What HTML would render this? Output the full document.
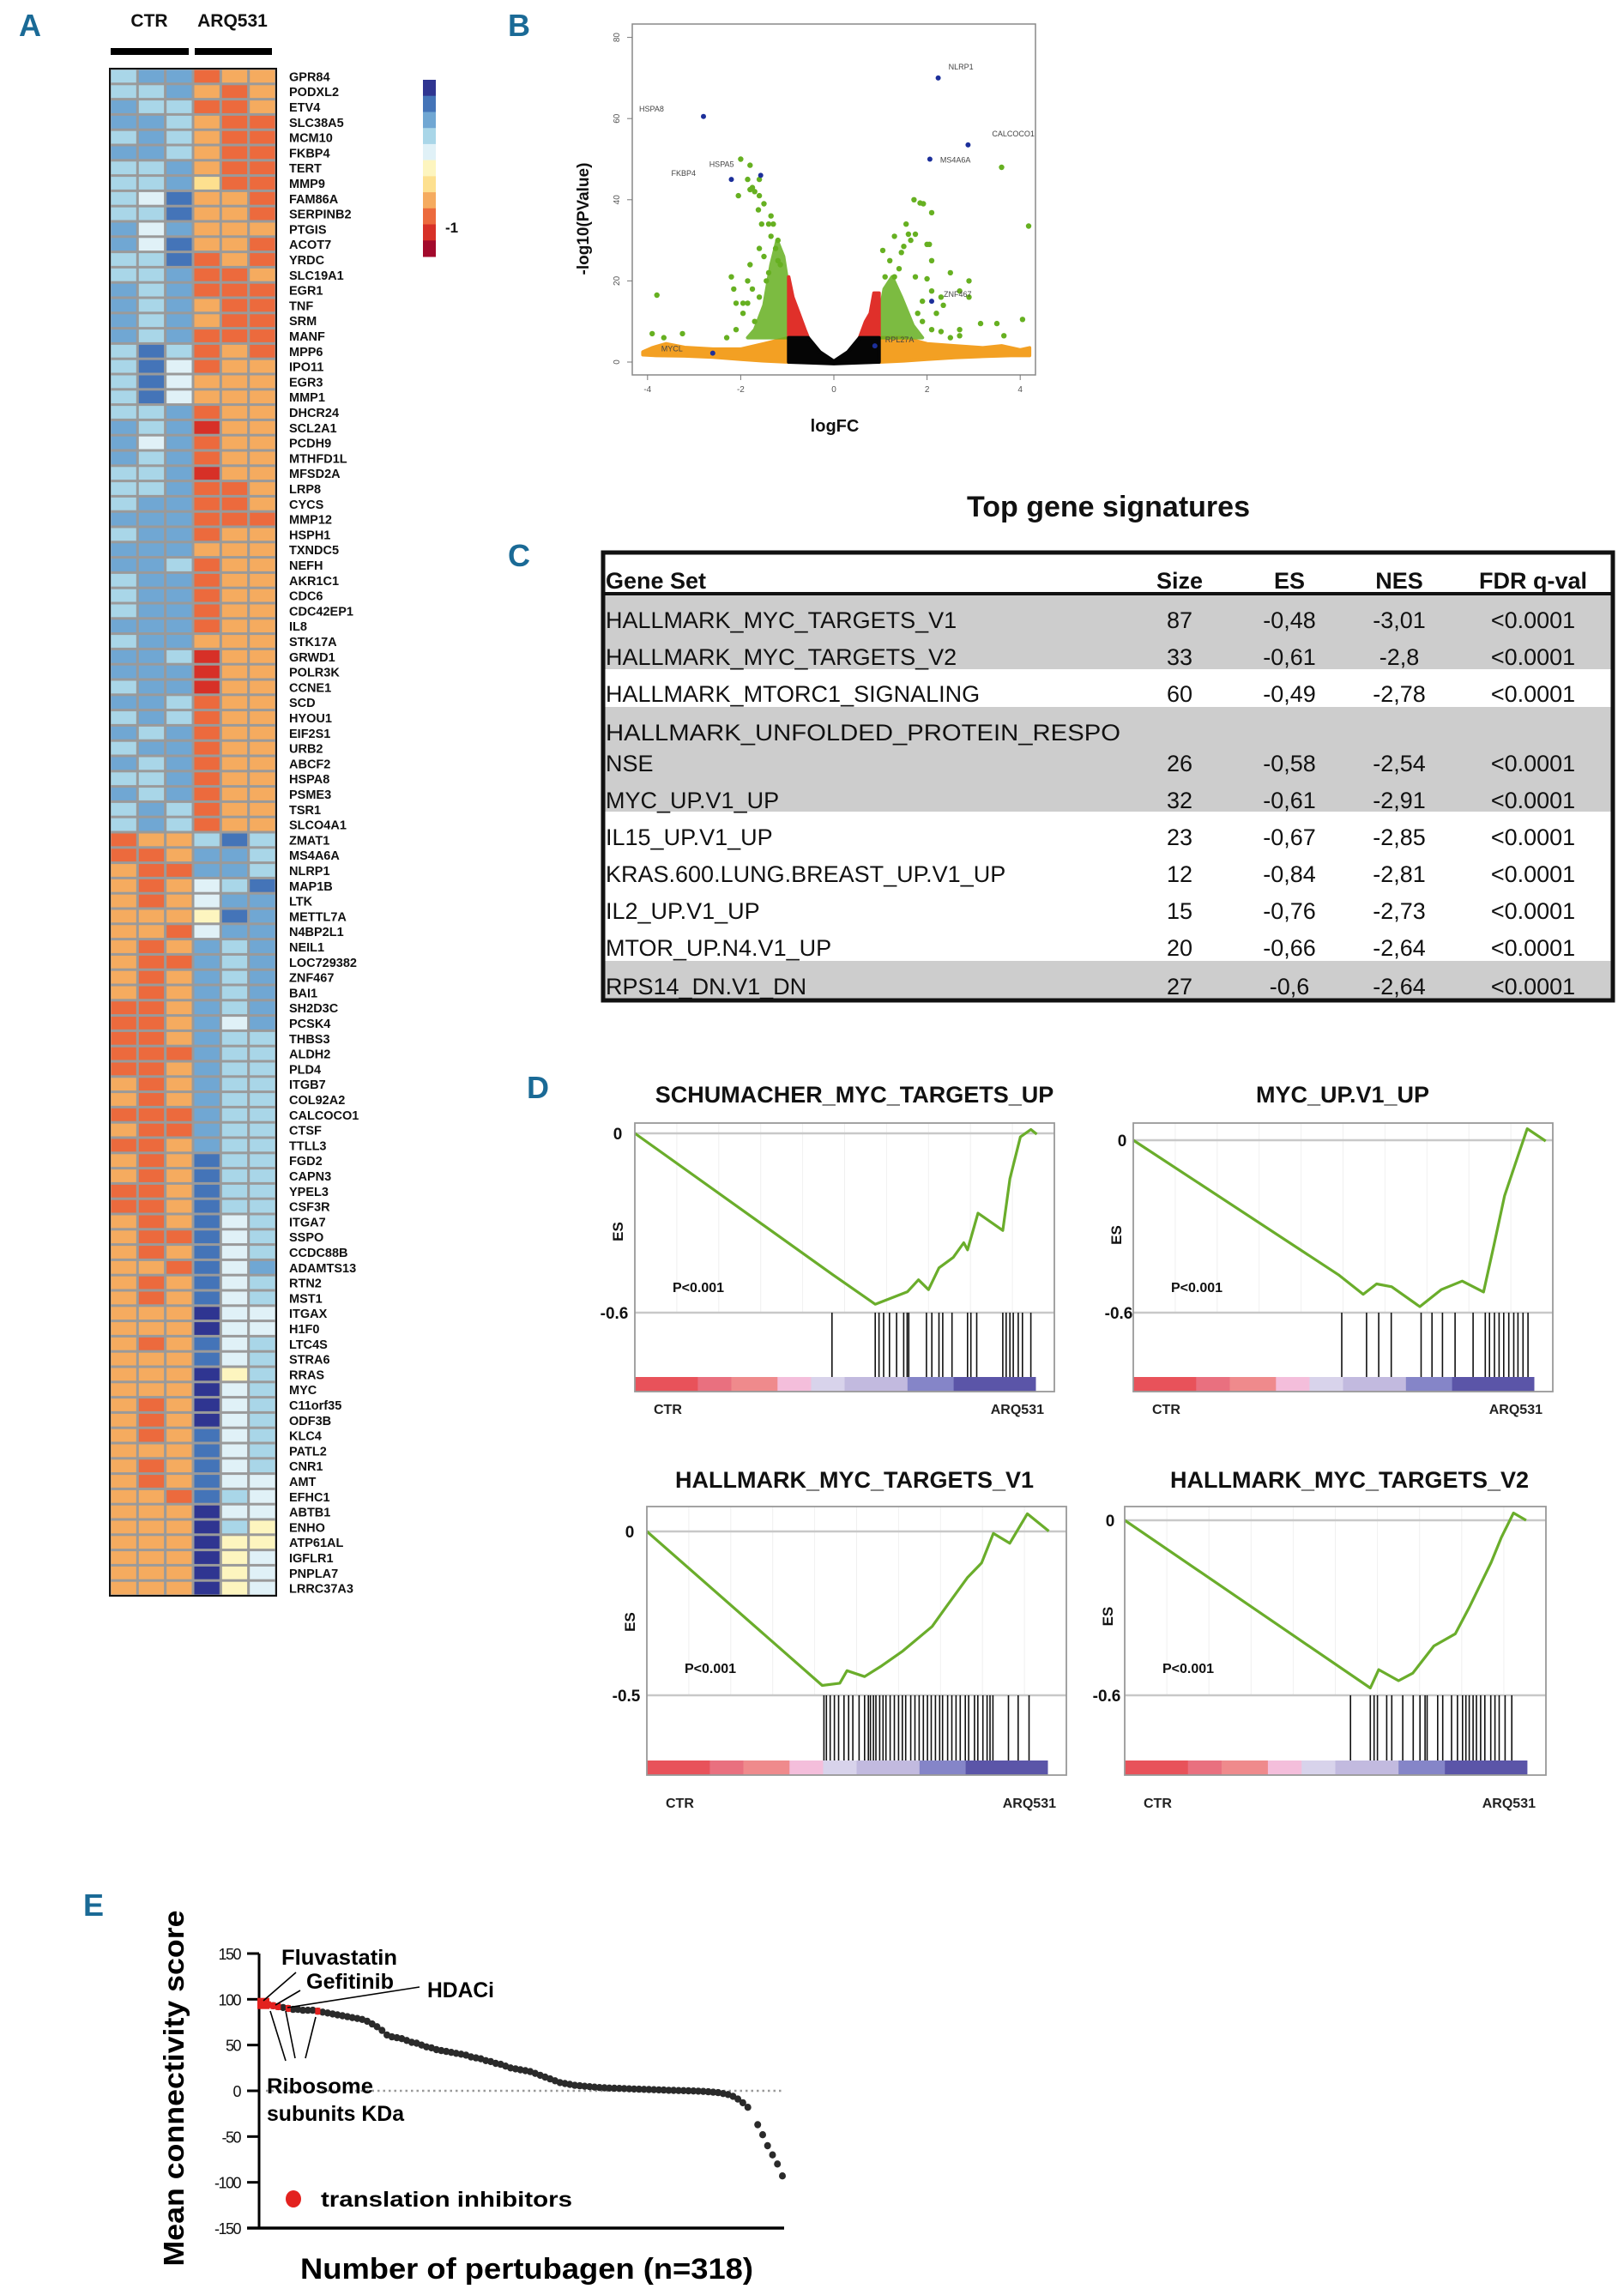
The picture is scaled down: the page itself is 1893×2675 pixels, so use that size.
<!DOCTYPE html>
<html><head><meta charset="utf-8"><style>
html,body{margin:0;padding:0;background:#fff;}
svg{display:block;font-family:"Liberation Sans",Arial,sans-serif;}
</style></head><body>
<svg id="fig" xmlns="http://www.w3.org/2000/svg" width="1893" height="2675" viewBox="0 0 1893 2675">
<rect x="0" y="0" width="1893" height="2675" fill="#fff"/>
<g font-family="Liberation Sans, Arial, sans-serif" font-weight="bold" fill="#1a6a96" font-size="36">
<text x="22" y="42">A</text>
<text x="592" y="42">B</text>
<text x="592" y="660">C</text>
<text x="614" y="1280">D</text>
<text x="97" y="2233">E</text>
</g>
<g id="gA"></g>
<g id="gB"></g>
<g id="gC"></g>
<g id="gD"></g>
<g id="gE"></g>
</svg>
<script>
// ================= DATA =================
// Heatmap (A)
var genes = ["GPR84","PODXL2","ETV4","SLC38A5","MCM10","FKBP4","TERT","MMP9","FAM86A","SERPINB2","PTGIS","ACOT7","YRDC","SLC19A1","EGR1","TNF","SRM","MANF","MPP6","IPO11","EGR3","MMP1","DHCR24","SCL2A1","PCDH9","MTHFD1L","MFSD2A","LRP8","CYCS","MMP12","HSPH1","TXNDC5","NEFH","AKR1C1","CDC6","CDC42EP1","IL8","STK17A","GRWD1","POLR3K","CCNE1","SCD","HYOU1","EIF2S1","URB2","ABCF2","HSPA8","PSME3","TSR1","SLCO4A1","ZMAT1","MS4A6A","NLRP1","MAP1B","LTK","METTL7A","N4BP2L1","NEIL1","LOC729382","ZNF467","BAI1","SH2D3C","PCSK4","THBS3","ALDH2","PLD4","ITGB7","COL92A2","CALCOCO1","CTSF","TTLL3","FGD2","CAPN3","YPEL3","CSF3R","ITGA7","SSPO","CCDC88B","ADAMTS13","RTN2","MST1","ITGAX","H1F0","LTC4S","STRA6","RRAS","MYC","C11orf35","ODF3B","KLC4","PATL2","CNR1","AMT","EFHC1","ABTB1","ENHO","ATP61AL","IGFLR1","PNPLA7","LRRC37A3"];
var cellCodes = ["dccihh","ddchih","cddiih","ccdhii","dcdhii","ccdhii","ddchii","ddcgii","debhhi","ddbhhi","cechhh","cebhhi","ddbihi","ddciih","cdciii","cdchii","cdchii","cdciii","dbdihi","dbeihh","dbehhh","dbehhh","ddcihh","cdcjhh","cecihh","cdcihh","ddcjhh","ddciih","dcciih","ccciii","dccihh","ccchhh","ccdihh","dccihh","dccihh","dccihh","cccihh","dcchhh","ccdjhh","cccjhh","dccjhh","ccdihh","dcdihh","cdcihh","dccihh","cdcihh","ddcihh","cdcihh","dcdihh","dcdihh",
"ihhdbd","iihccd","hiiccd","hihedb","hihecc","hhhfbc","hhiecc","hihcdc","hiicdc","hihcdc","hihcdc","iihcdc","iihcec","iihcdd","iiicdd","iihcdd","hihcdd","hihcdd","iiicdd","hiicdd","iihcdd","hihbdd","hihbdd","iihbdd","iihbdd","hihbed","hiibed","hihbed","hhibec","hihbed","hihbed","hhhaee","hhhaee","hihbed","hhhbed","hhhafd","hhhaed","hihaed","hihaed","hihbed","hhhbed","hihbed","hihbee","hhibde","hhhaee","hhhadf","hhhaff","hhhafe","hhhafe","hhhafe"];
var legendCodes = ["a","b","c","d","e","f","g","h","i","j","k"];

// Volcano (B)
var greenX = [-3.8,-3.9,-3.65,-3.25,-2.2,-2.15,-2.1,-1.95,-1.85,-2.0,-1.8,-1.85,-1.6,-1.75,-1.8,-1.7,-2.05,-1.6,-1.5,-1.62,-1.35,-1.4,-1.3,-1.55,-1.35,-1.2,-1.6,-1.5,-1.8,-1.2,-1.4,-1.85,-1.75,-1.6,-1.95,-2.1,-2.3,-1.15,-1.25,-1.45,-1.7,3.6,4.18,1.72,1.85,1.92,2.1,1.55,1.6,1.75,1.65,1.3,2.0,2.05,1.5,1.45,2.1,1.05,1.2,1.4,1.1,1.3,2.5,2.9,2.0,1.75,2.1,2.7,2.9,2.3,2.35,2.2,3.15,3.5,4.05,2.7,2.7,2.5,3.65,2.3,2.1,1.9,1.8,1.9];
var greenY = [16.5,7,6,7,21,18,14.5,14.5,14.5,50,48.5,45,45,43,42.5,42,41,41,39,37.5,36,34,34,34,31,30,28,26,24,25,22,20,18,16,12,8,6,24,28,20,10,48,33.5,40,39.2,39,36.8,34,31.5,31.5,30,31,29,29,28.5,27,25,27.5,25,23,21,21,22,20,20.5,21,17.5,17.5,16,16,14,12,9.5,9.5,10.5,8,6.5,6,6.5,7.5,8,10,12,15];
var labelNames = ["HSPA8","FKBP4","HSPA5","NLRP1","CALCOCO1","MS4A6A","ZNF467","RPL27A","MYCL"];
var labelX = [-2.8,-2.2,-1.57,2.24,2.88,2.06,2.1,0.88,-2.6];
var labelY = [60.5,45,46,70,53.5,50,15,4,2.2];
var orangeLeftX = [-4.1,-3.9,-3.6,-3.2,-2.6,-2.0,-1.5,-0.97,-0.97,-1.5,-2.0,-2.6,-3.2,-3.8,-4.1];
var orangeLeftY = [2.5,3.5,4.5,3.6,3.2,3.2,4.5,6,0,0.3,0.7,1.2,1.5,1.6,1.8];
var orangeRightX = [0.97,1.5,2.0,2.6,3.2,3.6,4.0,4.2,4.2,3.8,3.2,2.6,2.0,1.5,0.97];
var orangeRightY = [6,6,4.5,4,3.5,4,3,3.5,1.6,1.6,1.4,1.1,0.7,0.3,0];
var blackX = [-0.97,-0.97,-0.55,-0.3,0,0.3,0.55,0.97,0.97,0.5,0,-0.5];
var blackY = [0,6,6,2.5,0.2,2.5,6,6,0,-0.2,-0.4,-0.2];
var redLeftX = [-0.97,-0.97,-0.88,-0.75,-0.62,-0.55];
var redLeftY = [6,21,16,12,8,6];
var redRightX = [0.55,0.68,0.78,0.86,0.97,0.97];
var redRightY = [6,10,12,17,17,6];
var greenLeftX = [-0.97,-0.97,-1.08,-1.22,-1.35,-1.5,-1.7,-1.85];
var greenLeftY = [6,18,26,30,24,14,8,6];
var greenRightX = [0.97,0.97,1.08,1.25,1.45,1.7,1.9];
var greenRightY = [6,11,18,21,16,9,6];
var xTicksB = [-4,-2,0,2,4];
var yTicksB = [0,20,40,60,80];

// Table (C)
var tblHeaders = ["Gene Set","Size","ES","NES","FDR q-val"];
var tblNames = ["HALLMARK_MYC_TARGETS_V1","HALLMARK_MYC_TARGETS_V2","HALLMARK_MTORC1_SIGNALING","HALLMARK_UNFOLDED_PROTEIN_RESPO|NSE","MYC_UP.V1_UP","IL15_UP.V1_UP","KRAS.600.LUNG.BREAST_UP.V1_UP","IL2_UP.V1_UP","MTOR_UP.N4.V1_UP","RPS14_DN.V1_DN"];
var tblSize = ["87","33","60","26","32","23","12","15","20","27"];
var tblES = ["-0,48","-0,61","-0,49","-0,58","-0,61","-0,67","-0,84","-0,76","-0,66","-0,6"];
var tblNES = ["-3,01","-2,8","-2,78","-2,54","-2,91","-2,85","-2,81","-2,73","-2,64","-2,64"];
var tblFDR = ["<0.0001","<0.0001","<0.0001","<0.0001","<0.0001","<0.0001","<0.0001","<0.0001","<0.0001","<0.0001"];

// GSEA (D)
var gseaTitles = ["SCHUMACHER_MYC_TARGETS_UP","MYC_UP.V1_UP","HALLMARK_MYC_TARGETS_V1","HALLMARK_MYC_TARGETS_V2"];
var gseaMinLabels = ["-0.6","-0.6","-0.5","-0.6"];
var gseaMin = [-0.6,-0.6,-0.5,-0.6];
var es1F = [0,0.472,0.573,0.65,0.676,0.70,0.725,0.759,0.784,0.793,0.818,0.877,0.894,0.919,0.944,0.958];
var es1V = [0,-0.473,-0.572,-0.53,-0.49,-0.523,-0.45,-0.415,-0.366,-0.39,-0.267,-0.325,-0.152,-0.012,0.013,-0.003];
var es2F = [0,0.489,0.548,0.58,0.616,0.683,0.734,0.784,0.835,0.86,0.885,0.919,0.939,0.983];
var es2V = [0,-0.468,-0.536,-0.5,-0.51,-0.579,-0.52,-0.49,-0.528,-0.364,-0.193,-0.046,0.04,-0.003];
var es3F = [0,0.418,0.46,0.477,0.519,0.56,0.61,0.68,0.713,0.764,0.798,0.826,0.865,0.907,0.958];
var es3V = [0,-0.47,-0.463,-0.425,-0.443,-0.41,-0.365,-0.29,-0.231,-0.141,-0.096,-0.006,-0.036,0.054,0.001];
var es4F = [0,0.583,0.603,0.65,0.684,0.734,0.785,0.819,0.87,0.894,0.923,0.953];
var es4V = [0,-0.575,-0.512,-0.55,-0.524,-0.431,-0.389,-0.296,-0.144,-0.059,0.025,0];
var hits1 = [0.47,0.573,0.582,0.593,0.607,0.624,0.641,0.649,0.653,0.695,0.708,0.725,0.734,0.756,0.793,0.801,0.815,0.877,0.885,0.894,0.902,0.914,0.924,0.944];
var hits2 = [0.497,0.556,0.585,0.615,0.686,0.712,0.737,0.767,0.81,0.839,0.849,0.861,0.872,0.883,0.895,0.907,0.917,0.929,0.941];
var hits3 = [0.422,0.428,0.437,0.447,0.457,0.47,0.481,0.491,0.506,0.519,0.528,0.533,0.54,0.546,0.555,0.563,0.57,0.58,0.59,0.6,0.609,0.617,0.629,0.639,0.649,0.659,0.669,0.678,0.688,0.698,0.705,0.717,0.727,0.737,0.747,0.759,0.767,0.781,0.789,0.801,0.811,0.818,0.825,0.862,0.885,0.911];
var hits4 = [0.536,0.583,0.592,0.6,0.622,0.634,0.66,0.685,0.701,0.713,0.718,0.743,0.755,0.776,0.79,0.802,0.81,0.818,0.827,0.835,0.845,0.855,0.869,0.879,0.889,0.903,0.919];

// Connectivity (E)
var cmapScores = [95,94,93,92,91,90,89,89,88,88,88,
87,86,85,84,83,82,81,80,79,78,
76,73,70,66,61,
59,58,57,55,53,
52,50,48,47,45,
44,43,42,41,40,
39,37,36,35,33,
32,30,29,27,25,
24,23,22,21,19,
17,15,13,11,9,
8,7,6,5.5,5,
4.5,4,3.6,3.3,3,
2.8,2.6,2.4,2.2,2,1.8,1.6,1.4,1.2,1,
0.8,0.6,0.5,0.3,0.2,0,-0.2,-0.4,-0.7,-1,
-1.5,-2,-3,-4,-6,
-9,-13,-18,-24,
-37,-48,-60,-70,-80,-93];
var cmapRedIdx = [0,1,2,3,5,11];
var yTicksE = [150,100,50,0,-50,-100,-150];
</script>
<script>
var NS="http://www.w3.org/2000/svg";
function mk(tag, attrs, parent){var e=document.createElementNS(NS,tag);for(var k in attrs){e.setAttribute(k,attrs[k]);}parent.appendChild(e);return e;}
function txt(s, attrs, parent){var e=mk('text',attrs,parent);e.textContent=s;return e;}
var colorOf={a:"#2f3591",b:"#4474b8",c:"#70a7d3",d:"#a9d6e8",e:"#e0f1f7",f:"#fdf5bf",g:"#fde08f",h:"#f5ab5f",i:"#ec6a3d",j:"#d73027",k:"#a30a2c"};

// ===== A: heatmap =====
(function(){
var g=document.getElementById('gA');
var t;
t=txt("CTR",{x:174,y:31,"font-size":21,"font-weight":"bold","text-anchor":"middle",fill:"#111"},g);


t=txt("ARQ531",{x:271,y:31,"font-size":21,"font-weight":"bold","text-anchor":"middle",fill:"#111"},g);


var b=mk('rect',{x:129,y:56,width:91,height:8,fill:"#000"},g);


b=mk('rect',{x:227,y:56,width:90,height:8,fill:"#000"},g);


var x0=128,x1=322,y0=80,rh=17.8,cw=(x1-x0)/6;
var bg=mk('rect',{x:x0,y:y0,width:x1-x0,height:rh*genes.length,fill:"#9a9a9a"},g);


for(var r=0;r<genes.length;r++){
  var code=cellCodes[r];
  for(var c=0;c<6;c++){
    var cell=mk('rect',{x:(x0+c*cw+1.5).toFixed(1),y:(y0+r*rh+1.5).toFixed(1),width:(cw-3).toFixed(1),height:(rh-3).toFixed(1),fill:colorOf[code[c]]},g);
    
    
  }
  var lb=txt(genes[r],{x:337,y:(y0+r*rh+rh/2+5.5).toFixed(1),"font-size":14.5,"font-weight":"bold",fill:"#111"},g);
  
  
}
var fr=mk('rect',{x:x0,y:y0,width:x1-x0,height:rh*genes.length,fill:"none",stroke:"#111","stroke-width":2},g);


var ly=93,lh=(299-93)/legendCodes.length;
for(var i=0;i<legendCodes.length;i++){
  var s=mk('rect',{x:493,y:(ly+i*lh).toFixed(1),width:15,height:(lh+0.5).toFixed(1),fill:colorOf[legendCodes[i]]},g);
  
  
}
t=txt("-1",{x:519,y:271,"font-size":17,"font-weight":"bold",fill:"#111"},g);


})();

// ===== B: volcano =====
(function(){
var g=document.getElementById('gB');
var L=737,R=1207,T=28,B=437;
function xs(v){return 972+54.3*v;}
function ys(v){return 422-4.73*v;}
var box=mk('rect',{x:L,y:T,width:R-L,height:B-T,fill:"none",stroke:"#888","stroke-width":1.5},g);


function poly(xa,ya,fill,name,op){var p=[];for(var i=0;i<xa.length;i++)p.push(xs(xa[i]).toFixed(1)+","+ys(ya[i]).toFixed(1));var e=mk('polygon',{points:p.join(" "),fill:fill,stroke:fill,"stroke-width":4,"stroke-linejoin":"round","opacity":op||1},g);}
poly(orangeLeftX,orangeLeftY,"#f3a023","orange-points-left");
poly(orangeRightX,orangeRightY,"#f3a023","orange-points-right");
poly(greenLeftX,greenLeftY,"#66b021","green-points-dense-left",0.85);
poly(greenRightX,greenRightY,"#66b021","green-points-dense-right",0.85);
poly(redLeftX,redLeftY,"#e0302a","red-points-left");
poly(redRightX,redRightY,"#e0302a","red-points-right");
poly(blackX,blackY,"#050505","black-points");
for(var i=0;i<greenX.length;i++){
  var d=mk('circle',{cx:xs(greenX[i]).toFixed(1),cy:ys(greenY[i]).toFixed(1),r:3.2,fill:"#66b021"},g);
  
  
}
var offs=[[-75,-6],[-70,-4],[-60,-10],[12,-10],[28,-10],[12,4],[14,-5],[12,-4],[-60,-2]];
for(var i=0;i<labelNames.length;i++){
  var d=mk('circle',{cx:xs(labelX[i]).toFixed(1),cy:ys(labelY[i]).toFixed(1),r:3,fill:"#1c2f9a"},g);
  
  
  var t=txt(labelNames[i],{x:(xs(labelX[i])+offs[i][0]).toFixed(1),y:(ys(labelY[i])+offs[i][1]).toFixed(1),"font-size":9,fill:"#444"},g);
  
  
}
for(var i=0;i<xTicksB.length;i++){
  var x=xs(xTicksB[i]);
  var tk=mk('line',{x1:x,y1:B,x2:x,y2:B+6,stroke:"#777"},g);
  
  
  var t=txt(String(xTicksB[i]),{x:x,y:B+20,"font-size":10,"text-anchor":"middle",fill:"#555"},g);
  
  
}
for(var i=0;i<yTicksB.length;i++){
  var y=ys(yTicksB[i]);
  var tk=mk('line',{x1:L,y1:y,x2:L-6,y2:y,stroke:"#777"},g);
  
  
  var t=txt(String(yTicksB[i]),{x:722,y:y,"font-size":10,"text-anchor":"middle",fill:"#555",transform:"rotate(-90 722 "+y+")"},g);
  
  
}
var t=txt("logFC",{x:973,y:503,"font-size":20,"font-weight":"bold","text-anchor":"middle",fill:"#111"},g);


t=txt("-log10(PValue)",{x:686,y:255,"font-size":19,"font-weight":"bold","text-anchor":"middle",fill:"#111",transform:"rotate(-90 686 255)"},g);


})();

// ===== C: table =====
(function(){
var g=document.getElementById('gC');
var t=txt("Top gene signatures",{x:1292,y:602,"font-size":34,"font-weight":"bold","text-anchor":"middle",fill:"#111"},g);


var bands=[[691,780],[824,946],[1120,1167]];
var names=['shaded-band-myc','shaded-band-upr','shaded-band-rps14'];
for(var i=0;i<bands.length;i++){
  var r=mk('rect',{x:703,y:bands[i][0],width:1177,height:bands[i][1]-bands[i][0],fill:"#cdcdcd"},g);
  
  
}
var colX=[706,1375,1503,1631,1787];
for(var c=0;c<tblHeaders.length;c++){
  var h=txt(tblHeaders[c],{x:colX[c],y:686,"font-size":27,"font-weight":"bold","text-anchor":c==0?"start":"middle",fill:"#111"},g);
  
  
}
var hl=mk('line',{x1:701,y1:692,x2:1882,y2:692,stroke:"#111","stroke-width":4},g);


var yc=[732,775,818,899,942,985,1028,1071,1114,1159];
for(var r=0;r<tblNames.length;r++){
  var parts=tblNames[r].split("|");
  if(parts.length>1){
    var a=txt(parts[0],{x:706,y:863,"font-size":27,fill:"#111",textLength:600,lengthAdjust:"spacingAndGlyphs"},g);
    
    
    a=txt(parts[1],{x:706,y:yc[r],"font-size":27,fill:"#111"},g);
    
    
  } else {
    var a=txt(parts[0],{x:706,y:yc[r],"font-size":27,fill:"#111"},g);
    
    
  }
  var vals=[tblSize[r],tblES[r],tblNES[r],tblFDR[r]];
  for(var c=0;c<4;c++){
    var v=txt(vals[c],{x:colX[c+1],y:yc[r],"font-size":27,"text-anchor":"middle",fill:"#111"},g);
    
    
  }
}
var fr=mk('rect',{x:703,y:644,width:1177,height:522,fill:"none",stroke:"#111","stroke-width":5},g);


})();

// ===== D: GSEA =====
(function(){
var g=document.getElementById('gD');
var panels=[
 {L:740,R:1229,T:1309,B:1622,zero:1321,mn:1530,title:996,tY:1285,cbTop:1605,zx:712,lblY:1648,pY:1506},
 {L:1321,R:1810,T:1309,B:1622,zero:1329,mn:1530,title:1565,tY:1285,cbTop:1605,zx:1300,lblY:1648,pY:1506},
 {L:754,R:1243,T:1756,B:2069,zero:1785,mn:1976,title:996,tY:1734,cbTop:2052,zx:726,lblY:2107,pY:1950},
 {L:1311,R:1802,T:1756,B:2069,zero:1772,mn:1976,title:1573,tY:1734,cbTop:2052,zx:1286,lblY:2107,pY:1950}];
var esF=[es1F,es2F,es3F,es4F], esV=[es1V,es2V,es3V,es4V], hits=[hits1,hits2,hits3,hits4];
var cbF=[0,0.15,0.23,0.34,0.42,0.5,0.65,0.76,0.955];
var cbC=["#e8525a","#e9707f","#ef8a8c","#f4bedb","#d8d3eb","#c2badf","#8585c8","#5b55a8"];
panels.forEach(function(P,p){
  var W=P.R-P.L;
  var xs=function(f){return P.L+f*W;};
  var ys=function(v){return P.zero+(v/gseaMin[p])*(P.mn-P.zero);};
  var t=txt(gseaTitles[p],{x:P.title,y:P.tY,"font-size":27,"font-weight":"bold","text-anchor":"middle",fill:"#111"},g);
  
  
  for(var k=1;k<10;k++){
    var gl=mk('line',{x1:P.L+k*W/10,y1:P.T,x2:P.L+k*W/10,y2:P.mn,stroke:"#f0f0f0","stroke-width":1},g);
    
    
  }
  var z=mk('line',{x1:P.L,y1:P.zero,x2:P.R,y2:P.zero,stroke:"#c8c8c8","stroke-width":2.5},g);
  
  
  var m=mk('line',{x1:P.L,y1:P.mn,x2:P.R,y2:P.mn,stroke:"#c8c8c8","stroke-width":2.5},g);
  
  
  var h=hits[p];
  for(var i=0;i<h.length;i++){
    var hl=mk('line',{x1:xs(h[i]).toFixed(1),y1:P.mn,x2:xs(h[i]).toFixed(1),y2:P.cbTop,stroke:"#111","stroke-width":1.6},g);
    
    
  }
  for(var i=0;i<cbC.length;i++){
    var cr=mk('rect',{x:xs(cbF[i]).toFixed(1),y:P.cbTop,width:(xs(cbF[i+1])-xs(cbF[i])+0.5).toFixed(1),height:P.B-P.cbTop,fill:cbC[i]},g);
    
    
  }
  var pts=[];
  for(var i=0;i<esF[p].length;i++)pts.push(xs(esF[p][i]).toFixed(1)+","+ys(esV[p][i]).toFixed(1));
  var pl=mk('polyline',{points:pts.join(" "),fill:"none",stroke:"#6aad2b","stroke-width":3.2,"stroke-linejoin":"round"},g);
  
  
  var fr=mk('rect',{x:P.L,y:P.T,width:W,height:P.B-P.T,fill:"none",stroke:"#999","stroke-width":1.8},g);
  
  
  t=txt("0",{x:P.zx+8,y:P.zero+7,"font-size":19,"font-weight":"bold","text-anchor":"middle",fill:"#111"},g);
  
  
  t=txt(gseaMinLabels[p],{x:P.zx+4,y:P.mn+7,"font-size":19,"font-weight":"bold","text-anchor":"middle",fill:"#111"},g);
  
  
  var ey=(P.zero+P.mn)/2+10;
  t=txt("ES",{x:P.L-14,y:ey,"font-size":17,"font-weight":"bold","text-anchor":"middle",fill:"#111",transform:"rotate(-90 "+(P.L-14)+" "+ey+")"},g);
  
  
  t=txt("P<0.001",{x:P.L+44,y:P.pY,"font-size":16,"font-weight":"bold",fill:"#111"},g);
  
  
  t=txt("CTR",{x:P.L+22,y:P.lblY,"font-size":16,"font-weight":"bold",fill:"#222"},g);
  
  
  t=txt("ARQ531",{x:P.R-12,y:P.lblY,"font-size":16,"font-weight":"bold","text-anchor":"end",fill:"#222"},g);
  
  
});
})();

// ===== E: connectivity =====
(function(){
var g=document.getElementById('gE');
var AX=302, XR=914, n=cmapScores.length;
function ysv(v){return 2437-(v/150)*(2437-2277);}
function xs(i){return 307+i*(912-307)/(n-1);}
var zl=mk('line',{x1:AX+8,y1:ysv(0),x2:XR,y2:ysv(0),stroke:"#999","stroke-width":2.5,"stroke-dasharray":"2.5 4"},g);


var ya=mk('line',{x1:AX,y1:ysv(150),x2:AX,y2:ysv(-150),stroke:"#000","stroke-width":3},g);


var xa=mk('line',{x1:288,y1:ysv(-150),x2:XR,y2:ysv(-150),stroke:"#000","stroke-width":3.5},g);


for(var i=0;i<yTicksE.length;i++){
  var y=ysv(yTicksE[i]);
  var tk=mk('line',{x1:288,y1:y,x2:AX,y2:y,stroke:"#000","stroke-width":3},g);
  
  
  var t=txt(String(yTicksE[i]),{x:280,y:y+7,"font-size":18,"text-anchor":"end",fill:"#111","letter-spacing":"-1.5"},g);
  
  
}
for(var i=0;i<n;i++){
  if(i===99)continue;
  var d=mk('ellipse',{cx:xs(i).toFixed(1),cy:ysv(cmapScores[i]).toFixed(1),rx:4,ry:4.2,fill:"#2a2a2a"},g);
  
  
}
for(var j=0;j<cmapRedIdx.length;j++){
  var i=cmapRedIdx[j];
  var d=mk('rect',{x:(xs(i)-(i===0?7:3)).toFixed(1),y:(ysv(cmapScores[i])-(i===0?7:4)).toFixed(1),width:i===0?14:6,height:i===0?13:8,fill:"#e3221f"},g);
  
  
}
var lines=[[345,2299,307,2332],[350,2320,321,2337],[489,2316,335,2340],[333,2402,315,2344],[344,2399,333,2344],[356,2399,368,2351]];
var lnames=['fluvastatin-leader','gefitinib-leader','hdaci-leader','ribosome-leader','ribosome-leader','ribosome-leader'];
for(var i=0;i<lines.length;i++){
  var l=mk('line',{x1:lines[i][0],y1:lines[i][1],x2:lines[i][2],y2:lines[i][3],stroke:"#000","stroke-width":1.6},g);
  
  
}
var labs=[["Fluvastatin",328,2290,135,"fluvastatin-label"],["Gefitinib",357,2318,102,"gefitinib-label"],["HDACi",498,2328,78,"hdaci-label"],["Ribosome",311,2440,124,"ribosome-label"],["subunits KDa",311,2472,160,"subunits-kda-label"],["translation  inhibitors",374,2572,293,"legend-label"]];
for(var i=0;i<labs.length;i++){
  var t=txt(labs[i][0],{x:labs[i][1],y:labs[i][2],"font-size":25,"font-weight":"bold",fill:"#000",textLength:labs[i][3],lengthAdjust:"spacingAndGlyphs"},g);
  
  
}
var ld=mk('ellipse',{cx:342,cy:2563,rx:9,ry:10,fill:"#e3221f"},g);


var t=txt("Mean connectivity score",{x:214,y:2434,"font-size":33,"font-weight":"bold","text-anchor":"middle",fill:"#000",transform:"rotate(-90 214 2434)",textLength:415,lengthAdjust:"spacingAndGlyphs"},g);


t=txt("Number of pertubagen (n=318)",{x:614,y:2656,"font-size":34,"font-weight":"bold","text-anchor":"middle",fill:"#000",textLength:528,lengthAdjust:"spacingAndGlyphs"},g);


})();
</script>
</body></html>
